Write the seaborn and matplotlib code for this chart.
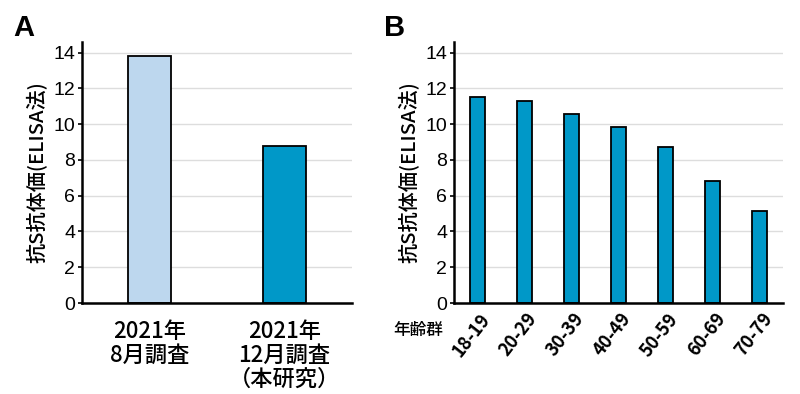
import matplotlib
matplotlib.use("Agg")
import matplotlib.pyplot as plt
import matplotlib.transforms as mtrans
import seaborn as sns
import pandas as pd

# Data
a_labels = ["2021年\n8月調査", "2021年\n12月調査\n（本研究）"]
a_values = [13.8, 8.8]
a_colors = ["#BDD7EE", "#0098C8"]

b_labels = ["18-19", "20-29", "30-39", "40-49", "50-59", "60-69", "70-79"]
b_values = [11.5, 11.3, 10.55, 9.85, 8.7, 6.8, 5.15]
b_color = "#0098C8"

ylabel = "抗S抗体価(ELISA法)"
yticks = [0, 2, 4, 6, 8, 10, 12, 14]

sns.set_theme(style="white")
plt.rcParams["font.family"] = ["Liberation Sans", "Noto Sans CJK JP", "DejaVu Sans"]
CJK = ["Noto Sans CJK JP", "DejaVu Sans"]

fig = plt.figure(figsize=(8, 3.94), dpi=100)
axA = fig.add_axes([82/800, 1-303/394, (352-82)/800, (303-42)/394])
axB = fig.add_axes([454/800, 1-303/394, (783-454)/800, (303-42)/394])

dfA = pd.DataFrame({"cat": a_labels, "val": a_values})
sns.barplot(data=dfA, x="cat", y="val", hue="cat", palette=a_colors, legend=False,
            width=0.32, edgecolor="black", linewidth=1.3, ax=axA, saturation=1)

dfB = pd.DataFrame({"cat": b_labels, "val": b_values})
sns.barplot(data=dfB, x="cat", y="val", color=b_color, width=0.32,
            edgecolor="black", linewidth=1.3, ax=axB, saturation=1)

for ax, n in ((axA, 2), (axB, 7)):
    ax.set_xlim(-0.5, n - 0.5)
    ax.set_ylim(0, 14.6)
    ax.set_yticks(yticks)
    ax.yaxis.grid(True, color="#DDDDDD", linewidth=1)
    ax.set_axisbelow(True)
    for s in ("top", "right"):
        ax.spines[s].set_visible(False)
    for s in ("left", "bottom"):
        ax.spines[s].set_color("black")
        ax.spines[s].set_linewidth(1.8)
    ax.tick_params(axis="y", which="major", left=True, length=3, width=1.2,
                   color="black", labelsize=14, pad=2, labelcolor="black")
    for lbl in ax.get_yticklabels():
        lbl.set_family(["Liberation Sans", "DejaVu Sans"])
    ax.tick_params(axis="x", bottom=False, labelcolor="black")
    ax.set_xlabel("")
    ax.set_ylabel(ylabel, fontsize=14.5, family=CJK, fontweight="medium",
                  color="black", labelpad=4)

axA.tick_params(axis="x", labelsize=16, pad=6)
for lbl in axA.get_xticklabels():
    lbl.set_family(CJK)
    lbl.set_fontweight("medium")
    lbl.set_linespacing(1.05)
    lbl.set_verticalalignment("top")

axB.tick_params(axis="x", labelsize=13, pad=0)
off = mtrans.ScaledTranslation(9/100, -4/100, fig.dpi_scale_trans)
for lbl in axB.get_xticklabels():
    lbl.set_rotation(52)
    lbl.set_ha("right")
    lbl.set_va("center")
    lbl.set_rotation_mode("anchor")
    lbl.set_fontweight("bold")
    lbl.set_family(CJK)
    lbl.set_transform(lbl.get_transform() + off)

fig.text(393/800, 1-330/394, "年齢群", fontsize=12, ha="left", va="center",
         family=CJK, fontweight="medium", color="black")

fig.text(13/800, 1-28/394, "A", fontsize=21, fontweight="bold", ha="left", va="center",
         family="Liberation Sans", color="black")
fig.text(384/800, 1-28/394, "B", fontsize=21, fontweight="bold", ha="left", va="center",
         family="Liberation Sans", color="black")

fig.savefig("out.png", dpi=100, facecolor="white")
